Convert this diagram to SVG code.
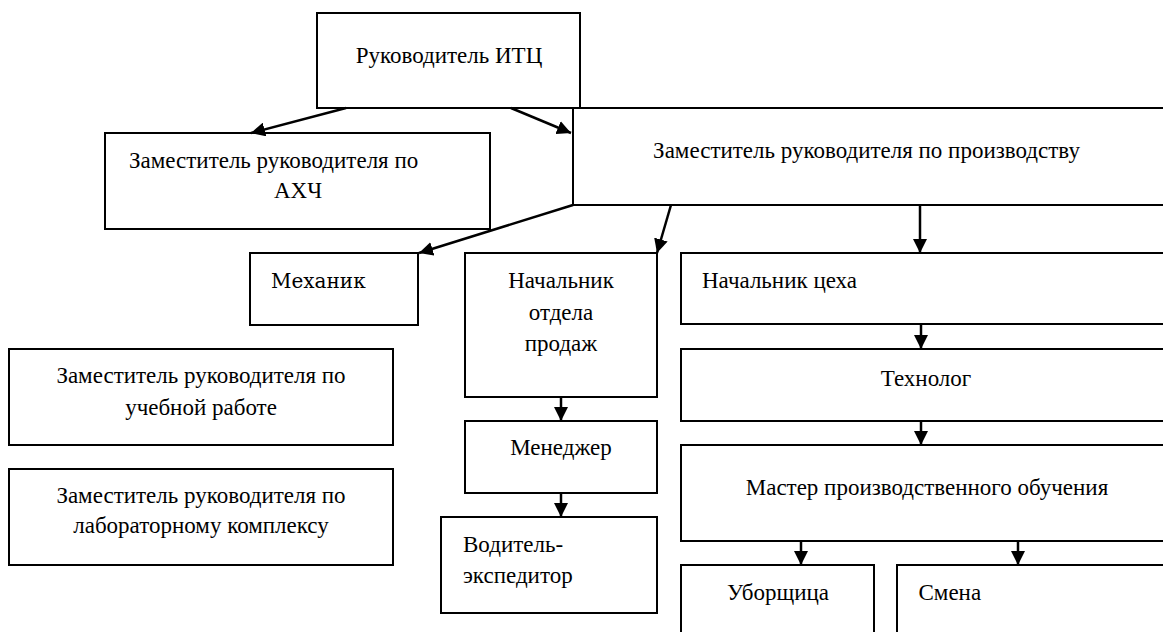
<svg xmlns="http://www.w3.org/2000/svg" width="1163" height="632" viewBox="0 0 1163 632">
<defs>
  <marker id="arr" markerUnits="userSpaceOnUse" markerWidth="14" markerHeight="14" viewBox="0 0 14 14" refX="14" refY="7" orient="auto">
    <path d="M0,0 L14,7 L0,14 Z" fill="#000000"/>
  </marker>
</defs>
<rect width="1163" height="632" fill="#ffffff"/>

<g id="n-head">
  <rect x="317" y="13" width="263" height="95" fill="#ffffff" stroke="#000000" stroke-width="2"/>
  <text x="449" y="63" text-anchor="middle" style="font-family: 'Liberation Serif'; font-size: 23px">Руководитель ИТЦ</text>
</g>
<g id="n-ahch">
  <rect x="105" y="133" width="385" height="96" fill="#ffffff" stroke="#000000" stroke-width="2"/>
  <text x="129" y="168" style="font-family: 'Liberation Serif'; font-size: 23px">Заместитель руководителя по</text>
  <text x="274" y="198" style="font-family: 'Liberation Serif'; font-size: 23px">АХЧ</text>
</g>
<g id="n-prod">
  <rect x="573" y="108" width="600" height="97" fill="#ffffff" stroke="#000000" stroke-width="2"/>
  <text x="866.5" y="158" text-anchor="middle" font-family="Times New Roman" font-size="23">Заместитель руководителя по производству</text>
</g>
<g id="n-mech">
  <rect x="250" y="253" width="168" height="72" fill="#ffffff" stroke="#000000" stroke-width="2"/>
  <text x="271" y="288" font-family="DejaVu Serif" font-size="20">Механик</text>
</g>
<g id="n-sales">
  <rect x="465" y="253" width="192" height="144" fill="#ffffff" stroke="#000000" stroke-width="2"/>
  <text x="561" y="288" text-anchor="middle" style="font-family: 'Liberation Serif'; font-size: 23px">Начальник</text>
  <text x="561" y="319.5" text-anchor="middle" style="font-family: 'Liberation Serif'; font-size: 23px">отдела</text>
  <text x="561" y="351" text-anchor="middle" style="font-family: 'Liberation Serif'; font-size: 23px">продаж</text>
</g>
<g id="n-shop">
  <rect x="681" y="253" width="492" height="71" fill="#ffffff" stroke="#000000" stroke-width="2"/>
  <text x="702" y="288" font-family="Liberation Serif, serif" font-size="23">Начальник цеха</text>
</g>
<g id="n-study">
  <rect x="9" y="349" width="384" height="96" fill="#ffffff" stroke="#000000" stroke-width="2"/>
  <text x="201" y="383" text-anchor="middle" style="font-family: 'Liberation Serif'; font-size: 23px">Заместитель руководителя по</text>
  <text x="201" y="415" text-anchor="middle" style="font-family: 'Liberation Serif'; font-size: 23px">учебной работе</text>
</g>
<g id="n-lab">
  <rect x="9" y="469" width="384" height="96" fill="#ffffff" stroke="#000000" stroke-width="2"/>
  <text x="201" y="503" text-anchor="middle" style="font-family: 'Liberation Serif'; font-size: 23px">Заместитель руководителя по</text>
  <text x="201" y="533" text-anchor="middle" style="font-family: 'Liberation Serif'; font-size: 23px">лабораторному комплексу</text>
</g>
<g id="n-tech">
  <rect x="681" y="349" width="492" height="72" fill="#ffffff" stroke="#000000" stroke-width="2"/>
  <text x="926" y="386" text-anchor="middle" style="font-family: 'Liberation Serif'; font-size: 23px">Технолог</text>
</g>
<g id="n-manager">
  <rect x="465" y="421" width="192" height="72" fill="#ffffff" stroke="#000000" stroke-width="2"/>
  <text x="561" y="455" text-anchor="middle" style="font-family: 'Liberation Serif'; font-size: 23px">Менеджер</text>
</g>
<g id="n-master">
  <rect x="681" y="445" width="492" height="96" fill="#ffffff" stroke="#000000" stroke-width="2"/>
  <text x="927" y="495" text-anchor="middle" style="font-family: 'Liberation Serif'; font-size: 23px">Мастер производственного обучения</text>
</g>
<g id="n-driver">
  <rect x="441" y="517" width="216" height="96" fill="#ffffff" stroke="#000000" stroke-width="2"/>
  <text x="463" y="552" style="font-family: 'Liberation Serif'; font-size: 23px">Водитель-</text>
  <text x="463" y="583" style="font-family: 'Liberation Serif'; font-size: 23px">экспедитор</text>
</g>
<g id="n-cleaner">
  <rect x="681" y="565" width="193" height="80" fill="#ffffff" stroke="#000000" stroke-width="2"/>
  <text x="778" y="600" text-anchor="middle" style="font-family: 'Liberation Serif'; font-size: 23px">Уборщица</text>
</g>
<g id="n-shift">
  <rect x="897" y="565" width="276" height="80" fill="#ffffff" stroke="#000000" stroke-width="2"/>
  <text x="918.5" y="600" style="font-family: 'Liberation Serif'; font-size: 23px">Смена</text>
</g>

<g id="connectors" stroke="#000000" stroke-width="2.5" fill="none">
  <line x1="346" y1="108" x2="251" y2="133" marker-end="url(#arr)"/>
  <line x1="511" y1="108" x2="571" y2="133" marker-end="url(#arr)"/>
  <line x1="573" y1="205" x2="419" y2="253" marker-end="url(#arr)"/>
  <line x1="671" y1="205" x2="657" y2="253" marker-end="url(#arr)"/>
  <line x1="920" y1="205" x2="920" y2="253" marker-end="url(#arr)"/>
  <line x1="921" y1="324" x2="921" y2="349" marker-end="url(#arr)"/>
  <line x1="921" y1="421" x2="921" y2="445" marker-end="url(#arr)"/>
  <line x1="801" y1="541" x2="801" y2="565" marker-end="url(#arr)"/>
  <line x1="1018" y1="541" x2="1018" y2="565" marker-end="url(#arr)"/>
  <line x1="561" y1="397" x2="561" y2="421" marker-end="url(#arr)"/>
  <line x1="561" y1="493" x2="561" y2="517" marker-end="url(#arr)"/>
</g>
</svg>
